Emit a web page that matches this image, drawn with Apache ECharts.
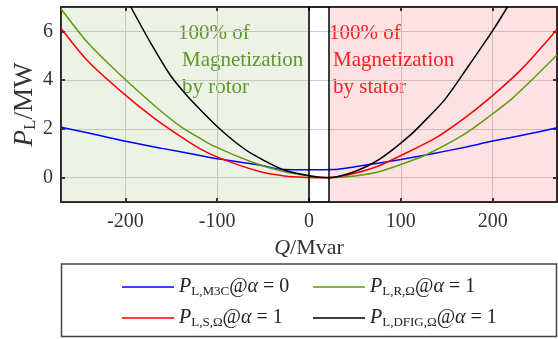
<!DOCTYPE html>
<html>
<head>
    <meta charset="utf-8"/>
    <title>PL vs Q</title>
    <script src="https://cdn.jsdelivr.net/npm/echarts@6/dist/echarts.min.js"></script>
</head>
<body style="margin:0">
<div id="main" style="width: 558px; height: 339px;"></div>
<script type="text/javascript">
    // data, Q in Mvar, P in MW
    var m3cQ = [-270, -240, -205, -160, -120, -97, -54, -27, 0, 27, 50, 77, 100, 133, 170, 200, 240, 270];
    var m3cP = [2.07, 1.83, 1.53, 1.2, 0.92, 0.76, 0.52, 0.33, 0.32, 0.33, 0.45, 0.6, 0.74, 0.97, 1.25, 1.5, 1.8, 2.05];

    var rotQ = [-270, -240, -205, -169, -140, -118, -104, -61, -30, 0, 22, 50, 77, 109, 131, 171, 200, 220, 245, 270];
    var rotP = [6.93, 5.5, 4.2, 2.98, 2.1, 1.6, 1.3, 0.62, 0.27, 0.07, 0, 0.07, 0.25, 0.66, 1.0, 1.83, 2.62, 3.21, 4.1, 5.03];

    var staQ = [-270, -240, -205, -169, -140, -118, -97, -54, -25, 0, 10, 30, 50, 77, 98, 138, 167, 195, 230, 270];
    var staP = [6.13, 4.75, 3.55, 2.45, 1.69, 1.17, 0.8, 0.25, 0.06, 0.01, 0, 0.03, 0.18, 0.5, 0.87, 1.63, 2.38, 3.21, 4.4, 6.08];

    var dfigQ = [-194, -172, -151, -133, -115, -100, -79, -61, -28, 0, 22, 50, 77, 109, 131, 148, 174, 200, 216];
    var dfigP = [7, 5.5, 4.2, 3.37, 2.66, 2.1, 1.42, 0.95, 0.32, 0.08, 0, 0.25, 0.76, 1.7, 2.52, 3.21, 4.6, 6.03, 7];

    var xTicks = [-200, -100, 0, 100, 200];
    var yTicks = [0, 2, 4, 6];

    var rotorZone = [-270, 0];
    var statorZone = [22, 270];

    function pairs(xs, ys) {
        return xs.map(function (x, i) { return [x, ys[i]]; });
    }

    var serif = 'Liberation Serif';
    var frame = '#262626';
    var green = '#5f9a0a';

    var legendText = {
        'M3C': '{i|P}{s|L,M3C}{n|@}{i|α}{n| = 0}',
        'R': '{i|P}{s|L,R,Ω}{n|@}{i|α}{n| = 1}',
        'S': '{i|P}{s|L,S,Ω}{n|@}{i|α}{n| = 1}',
        'DFIG': '{i|P}{s|L,DFIG,Ω}{n|@}{i|α}{n| = 1}'
    };
    var legendRich = {
        i: {fontFamily: serif, fontStyle: 'italic', fontSize: 20, color: '#222'},
        s: {fontFamily: serif, fontSize: 13, color: '#222', padding: [9, 0, 0, 0]},
        n: {fontFamily: serif, fontSize: 20, color: '#222'}
    };
    function legendAt(name, left, top) {
        return {
            data: [name], left: left, top: top,
            icon: 'rect', itemWidth: 52, itemHeight: 1.5,
            formatter: function (n) { return legendText[n]; },
            textStyle: {rich: legendRich}
        };
    }

    function axisBase(pos, show) {
        return {
            type: 'value', position: pos,
            axisLine: {show: true, onZero: false, lineStyle: {color: frame, width: 2}},
            axisTick: {show: true, inside: true, length: 4, lineStyle: {color: frame, width: 2}},
            axisLabel: {show: show, fontFamily: serif, fontSize: 20, color: '#333'},
            splitLine: {show: show, lineStyle: {color: '#cfcfcf', width: 1}}
        };
    }

    var xBottom = axisBase('bottom', true);
    xBottom.min = -270; xBottom.max = 270;
    xBottom.axisTick.customValues = xTicks;
    xBottom.axisLabel.customValues = xTicks;
    xBottom.axisLabel.margin = 10;
    xBottom.name = '{i|Q}{n|/Mvar}';
    xBottom.nameLocation = 'middle';
    xBottom.nameGap = 33;
    xBottom.nameTextStyle = {rich: {
        i: {fontFamily: serif, fontStyle: 'italic', fontSize: 22, color: '#333'},
        n: {fontFamily: serif, fontSize: 22, color: '#333'}
    }};
    var xTop = axisBase('top', false);
    xTop.min = -270; xTop.max = 270;
    xTop.axisTick.customValues = xTicks;

    var yLeft = axisBase('left', true);
    yLeft.min = -1; yLeft.max = 7;
    yLeft.axisTick.customValues = yTicks;
    yLeft.axisLabel.customValues = yTicks;
    yLeft.axisLabel.margin = 8;
    yLeft.name = '{i|P}{s|L}{n|/MW}';
    yLeft.nameLocation = 'middle';
    yLeft.nameGap = 22;
    yLeft.nameMoveOverlap = false;
    yLeft.nameTextStyle = {rich: {
        i: {fontFamily: serif, fontStyle: 'italic', fontSize: 27, color: '#333'},
        s: {fontFamily: serif, fontSize: 17, color: '#333', padding: [12, 0, 0, 0]},
        n: {fontFamily: serif, fontSize: 27, color: '#333'}
    }};
    var yRight = axisBase('right', false);
    yRight.min = -1; yRight.max = 7;
    yRight.axisTick.customValues = yTicks;

    function zoneText(lines, left, color) {
        return lines.map(function (t, i) {
            return {
                type: 'text', left: left[i], top: 23 + i * 27,
                style: {text: t, fill: color, font: '21px "Liberation Serif"'}
            };
        });
    }

    var chart = echarts.init(document.getElementById('main'));
    var option = {
        backgroundColor: '#fff',
        animation: false,
        grid: {left: 61, right: 1, top: 7, bottom: 137},
        xAxis: [xBottom, xTop],
        yAxis: [yLeft, yRight],
        legend: [
            legendAt('M3C', 117, 272),
            legendAt('R', 308, 272),
            legendAt('S', 117, 303),
            legendAt('DFIG', 308, 303)
        ],
        graphic: [
            {type: 'rect', shape: {x: 61.5, y: 264, width: 495, height: 72.5},
                style: {fill: 'none', stroke: '#444', lineWidth: 1.5}}
        ].concat(zoneText(['100% of', 'Magnetization', 'by rotor'], [178, 182, 182], '#5b9320'))
         .concat(zoneText(['100% of', 'Magnetization', 'by stator'], [329, 333, 333], '#ff1a1a')),
        series: [
            {
                name: 'zones', type: 'line', data: [], silent: true,
                markArea: {
                    silent: true,
                    data: [
                        [{xAxis: rotorZone[0], itemStyle: {color: 'rgba(135,168,95,0.15)'}}, {xAxis: rotorZone[1]}],
                        [{xAxis: statorZone[0], itemStyle: {color: 'rgba(242,62,75,0.15)'}}, {xAxis: statorZone[1]}]
                    ]
                }
            },
            {
                name: 'bounds', type: 'line', data: [], silent: true,
                markLine: {
                    silent: true, symbol: 'none', label: {show: false},
                    lineStyle: {color: '#000', width: 1.5, type: 'solid'},
                    data: [{xAxis: rotorZone[1]}, {xAxis: statorZone[0]}]
                }
            },
            {name: 'M3C', type: 'line', data: pairs(m3cQ, m3cP), smooth: 0.3, showSymbol: false,
                color: '#0000ff', lineStyle: {width: 1.5}},
            {name: 'R', type: 'line', data: pairs(rotQ, rotP), smooth: 0.3, showSymbol: false,
                color: green, lineStyle: {width: 1.5}},
            {name: 'S', type: 'line', data: pairs(staQ, staP), smooth: 0.3, showSymbol: false,
                color: '#ff0000', lineStyle: {width: 1.5}},
            {name: 'DFIG', type: 'line', data: pairs(dfigQ, dfigP), smooth: 0.3, showSymbol: false,
                color: '#000000', lineStyle: {width: 1.5}}
        ]
    };
    chart.setOption(option);
</script>
</body>
</html>
